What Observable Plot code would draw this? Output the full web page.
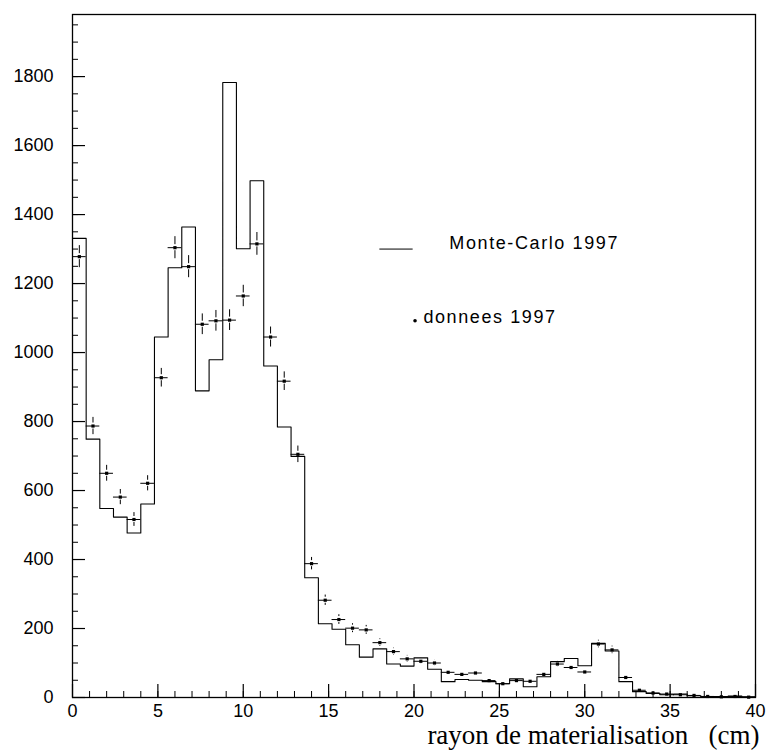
<!DOCTYPE html>
<html>
<head>
<meta charset="utf-8">
<script src="https://cdn.jsdelivr.net/npm/d3@7"></script>
<script src="https://cdn.jsdelivr.net/npm/@observablehq/plot@0.6"></script>
<style>
  html, body { margin: 0; padding: 0; background: #fff; }
  #chart svg { display: block; }
</style>
</head>
<body>
<div id="chart"></div>
<script>
// ---- data ----
const binWidth = 0.8; // cm, 50 bins from 0 to 40
const mcCounts = [1331, 749, 548, 523, 477, 561, 1045, 1246, 1364, 889,
                  979, 1783, 1301, 1498, 961, 784, 699, 347, 214, 198,
                  153, 117, 141, 97, 91, 115, 82, 46, 52, 50,
                  46, 40, 54, 31, 60, 104, 113, 92, 157, 135,
                  46, 17, 12, 8, 10, 5, 3, 3, 4, 2];
const dataCounts = [1278, 787, 650, 581, 516, 621, 927, 1304, 1249, 1082,
                    1092, 1094, 1164, 1315, 1045, 917, 705, 388, 282, 226,
                    201, 196, 159, 133, 112, 105, 100, 73, 67, 71,
                    49, 40, 49, 47, 67, 97, 87, 74, 155, 138,
                    58, 21, 13, 10, 8, 6, 3, 2, 3, 1];
const dataErrors = [32, 25, 23, 22, 20, 22, 27, 32, 32, 30,
                    30, 30, 31, 33, 29, 27, 24, 18, 15, 14,
                    13, 13, 11, 10, 10, 9, 9, 8, 7, 8,
                    6, 6, 6, 6, 7, 9, 8, 8, 11, 11,
                    7, 4, 3, 3, 3, 2, 2, 1, 2, 1];
const xTickLabels = [0, 5, 10, 15, 20, 25, 30, 35, 40];
const yTickLabels = [0, 200, 400, 600, 800, 1000, 1200, 1400, 1600, 1800];
const xMinorTicks = d3.range(0, 41, 1);
const yMinorTicks = d3.range(0, 1951, 50);
const legendLabels = ["Monte-Carlo 1997", "donnees 1997"];
const xLabel = "rayon de materialisation   (cm)";

// ---- layout ----
const W = 767, H = 756;
const mL = 72, mR = 12, mT = 14, mB = 59;
const xMax = 40, yMax = 1980;
const pxX = (W - mL - mR) / xMax;
const pxY = (H - mT - mB) / yMax;

// histogram outline
const mcStep = mcCounts.map((v, i) => ({x: i * binWidth, y: v}));
mcStep.push({x: mcCounts.length * binWidth, y: mcCounts[mcCounts.length - 1]});
mcStep.push({x: mcCounts.length * binWidth, y: 0});

// data points
const pts = dataCounts.map((v, i) => ({
  x0: i * binWidth, x1: (i + 1) * binWidth, xc: (i + 0.5) * binWidth,
  y: v, e: dataErrors[i]
}));
const gap = 3 / pxY;
const errUp = pts.filter(d => d.e > gap).map(d => ({x: d.xc, y1: d.y + gap, y2: d.y + d.e}));
const errDn = pts.filter(d => d.e > gap).map(d => ({x: d.xc, y1: Math.max(0, d.y - gap), y2: Math.max(0, d.y - d.e)}));

const font = "'Liberation Sans', Arial, sans-serif";

const chart = Plot.plot({
  width: W, height: H,
  marginLeft: mL, marginRight: mR, marginTop: mT, marginBottom: mB,
  style: {fontFamily: font, fontSize: "18px", background: "white", color: "black", overflow: "visible"},
  x: {domain: [0, xMax]},
  y: {domain: [0, yMax]},
  marks: [
    // tick labels
    Plot.axisY(yTickLabels, {tickSize: 0, tickPadding: 19, tickFormat: d => String(d), fontSize: 18, label: null}),
    Plot.axisX(xTickLabels, {tickSize: 0, tickPadding: 7, tickFormat: d => String(d), fontSize: 18, label: null}),
    // inward ticks
    Plot.ruleY(yMinorTicks, {x1: 0, x2: 6 / pxX, stroke: "black", strokeWidth: 1}),
    Plot.ruleY(yTickLabels, {x1: 0, x2: 13 / pxX, stroke: "black", strokeWidth: 1.2}),
    Plot.ruleX(xMinorTicks, {y1: 0, y2: 6 / pxY, stroke: "black", strokeWidth: 1}),
    Plot.ruleX(xTickLabels, {y1: 0, y2: 13 / pxY, stroke: "black", strokeWidth: 1.2}),
    // Monte-Carlo histogram
    Plot.line(mcStep, {x: "x", y: "y", curve: "step-after", stroke: "black", strokeWidth: 1.1}),
    // data: horizontal bars, vertical error bars, markers
    Plot.ruleY(pts, {y: "y", x1: "x0", x2: "x1", stroke: "black", strokeWidth: 1}),
    Plot.ruleX(errUp, {x: "x", y1: "y1", y2: "y2", stroke: "black", strokeWidth: 1}),
    Plot.ruleX(errDn, {x: "x", y1: "y1", y2: "y2", stroke: "black", strokeWidth: 1}),
    Plot.dot(pts, {x: "xc", y: "y", symbol: "square", r: 1.8, fill: "black", stroke: "none"}),
    // legend
    Plot.ruleY([1300], {x1: 18.0, x2: 19.95, stroke: "black", strokeWidth: 1}),
    Plot.text([legendLabels[0]], {x: 22.07, y: 1316, text: d => d, textAnchor: "start", fontSize: 18, fontFamily: font}),
    Plot.dot([0], {x: 20.06, y: 1092, r: 1.8, fill: "black", stroke: "none"}),
    Plot.text([legendLabels[1]], {x: 20.55, y: 1101, text: d => d, textAnchor: "start", fontSize: 18, fontFamily: font}),
    // axis title
    Plot.text([xLabel], {frameAnchor: "bottom-right", text: d => d, textAnchor: "end", lineAnchor: "middle", dx: 4, dy: 38, fontSize: 27, fontFamily: "'Liberation Serif', 'Times New Roman', serif"}),
    Plot.frame({stroke: "black", strokeWidth: 1.3})
  ]
});
document.getElementById("chart").appendChild(chart);
// letter spacing for legend text (HIGZ-like wide lettering)
chart.querySelectorAll("text").forEach(t => {
  if (t.textContent === legendLabels[0] || t.textContent === legendLabels[1]) t.style.letterSpacing = "1.6px";
});
</script>
</body>
</html>
